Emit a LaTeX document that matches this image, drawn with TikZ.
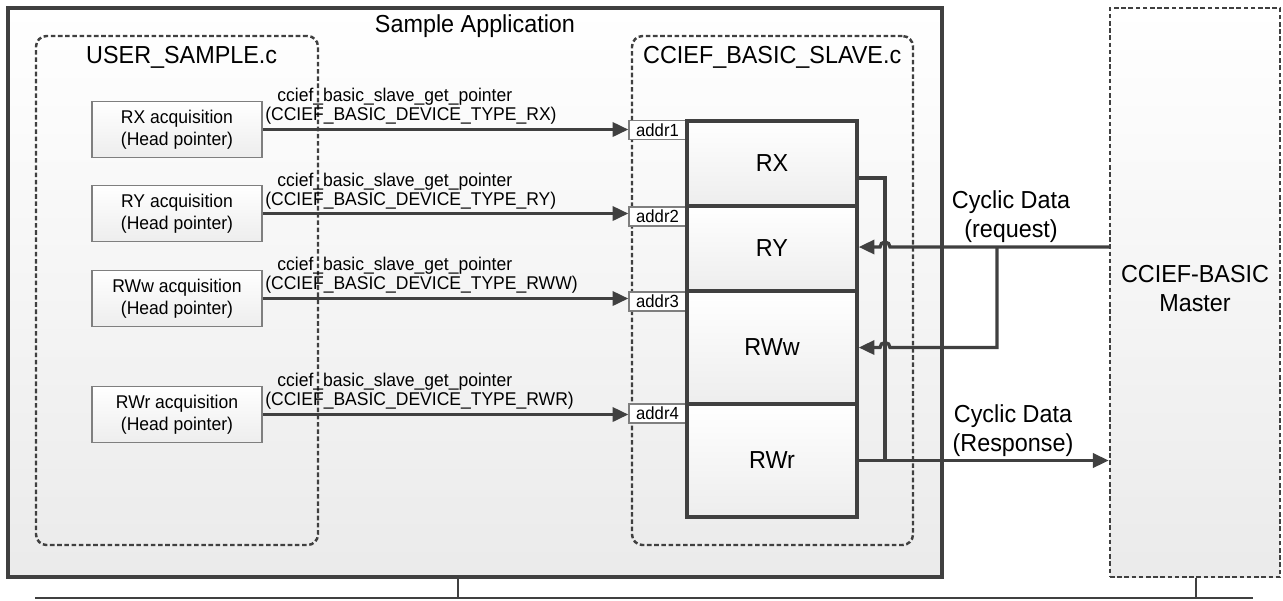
\documentclass[tikz,border=0pt]{standalone}
\usepackage{fontspec}
\setmainfont[FakeStretch=0.95]{Liberation Sans}
\usetikzlibrary{arrows.meta,fit,calc}
\definecolor{ln}{HTML}{404040}
\definecolor{gbox}{HTML}{7F7F7F}
\begin{document}
\begin{tikzpicture}[x=0.02cm,y=-0.02cm,
  big/.style={font=\fontsize{14}{16.5}\selectfont},
  small/.style={font=\fontsize{10.5}{12.5}\selectfont},
  tiny/.style={font=\fontsize{10}{11}\selectfont},
  outer/.style={draw=ln,line width=2.2pt,top color=white,bottom color=black!8,inner sep=0pt},
  dbox/.style={draw=ln,line width=1.4pt,dash pattern=on 2.6pt off 1.5pt,rounded corners=6pt,inner sep=0pt},
  mbox/.style={draw=ln,line width=1.4pt,dash pattern=on 2.6pt off 1.5pt,top color=white,bottom color=black!8,inner sep=0pt},
  lbox/.style={draw=gbox,line width=0.7pt,top color=white,bottom color=black!7,minimum width=3.4cm,minimum height=1.12cm,align=center,small,inner sep=0pt},
  reg/.style={draw=ln,line width=1.9pt,top color=white,bottom color=black!7,minimum width=3.4cm,big,inner sep=0pt},
  addrbox/.style={draw=gbox,fill=white,line width=0.7pt,minimum width=1.14cm,minimum height=0.38cm,tiny,inner sep=0pt},
  wire/.style={draw=ln,line width=1.9pt},
  arr/.style={wire,-{Triangle[length=9pt,width=8pt]}},
  flab/.style={small,anchor=base west,inner sep=0pt}
]
\useasboundingbox (0,0) rectangle (1283,600);
% containers
\node[outer,fit={(8,8)(942,577)}] (app) {};
\node[big,anchor=base] (apptitle) at (475,32) {Sample Application};
\node[dbox,fit={(36,36)(318,545)}] (user) {};
\node[big,anchor=base west] (usertitle) at (80,63) {USER\_SAMPLE.c};
\node[dbox,fit={(632,36)(913,545)}] (slave) {};
\node[big,anchor=base west] (slavetitle) at (637,63) {CCIEF\_BASIC\_SLAVE.c};
\node[mbox,fit={(1110,8)(1280,577)}] (master) {};
\node[big,align=center] (mastertext) at (1195,289) {CCIEF-BASIC\\Master};

% acquisition boxes
\node[lbox] (ax) at (177,129.5) {RX acquisition\\(Head pointer)};
\node[lbox] (ay) at (177,213.5) {RY acquisition\\(Head pointer)};
\node[lbox] (aw) at (177,298.5) {RWw acquisition\\(Head pointer)};
\node[lbox] (ar) at (177,414.5) {RWr acquisition\\(Head pointer)};

% addr boxes
\node[addrbox] (a1) at (657.5,130) {addr1};
\node[addrbox] (a2) at (657.5,216.5) {addr2};
\node[addrbox] (a3) at (657.5,301.5) {addr3};
\node[addrbox] (a4) at (657.5,413.5) {addr4};

% register blocks
\node[reg,minimum height=1.7cm] (rx) at (772,163.5) {RX};
\node[reg,minimum height=1.7cm] (ry) at (772,248.5) {RY};
\node[reg,minimum height=2.26cm] (rww) at (772,347.5) {RWw};
\node[reg,minimum height=2.26cm] (rwr) at (772,460.5) {RWr};

% function labels
\node[flab] (fx1) at (277,101) {ccief\_basic\_slave\_get\_pointer};
\node[flab] (fx2) at (265,120) {(CCIEF\_BASIC\_DEVICE\_TYPE\_RX)};
\node[flab] (fy1) at (277,186) {ccief\_basic\_slave\_get\_pointer};
\node[flab] (fy2) at (265,205) {(CCIEF\_BASIC\_DEVICE\_TYPE\_RY)};
\node[flab] (fw1) at (277,270) {ccief\_basic\_slave\_get\_pointer};
\node[flab] (fw2) at (265,289) {(CCIEF\_BASIC\_DEVICE\_TYPE\_RWW)};
\node[flab] (fr1) at (277,386) {ccief\_basic\_slave\_get\_pointer};
\node[flab] (fr2) at (265,405) {(CCIEF\_BASIC\_DEVICE\_TYPE\_RWR)};

% arrows to addr
\draw[arr] (ax.east) -- (ax.east -| a1.west);
\draw[arr] (ay.east) -- (ay.east -| a2.west);
\draw[arr] (aw.east) -- (aw.east -| a3.west);
\draw[arr] (ar.east) -- (ar.east -| a4.west);

% right side connectors
\coordinate (rxo) at (857,178);
\coordinate (jn) at (885,460.5);
\draw[wire] (rxo) -| (jn);
\draw[arr] (rwr.east) -- (rwr.east -| master.west);
\coordinate (hy) at (890,247);
\coordinate (hw) at (890,347.5);
\coordinate (brn) at (997,247);
\draw[arr] (hy -| master.west) -- (hy) arc[start angle=0,end angle=-180,radius=5] -- (ry.east |- hy);
\draw[arr] (brn) |- (hw) arc[start angle=0,end angle=-180,radius=5] -- (rww.east);

\node[big,align=center] (req) at (1011,217) {Cyclic Data\\(request)};
\node[big,align=center] (resp) at (1013,431) {Cyclic Data\\(Response)};

% bottom bus
\coordinate (busl) at (35,598);
\coordinate (busr) at (1253,598);
\coordinate (t1) at (458,598);
\coordinate (t2) at (1196,598);
\draw[draw=ln,line width=1.4pt] (busl) -- (busr);
\draw[draw=ln,line width=1.4pt] (app.south -| t1) -- (t1);
\draw[draw=ln,line width=1.4pt] (master.south -| t2) -- (t2);
\end{tikzpicture}
\end{document}
